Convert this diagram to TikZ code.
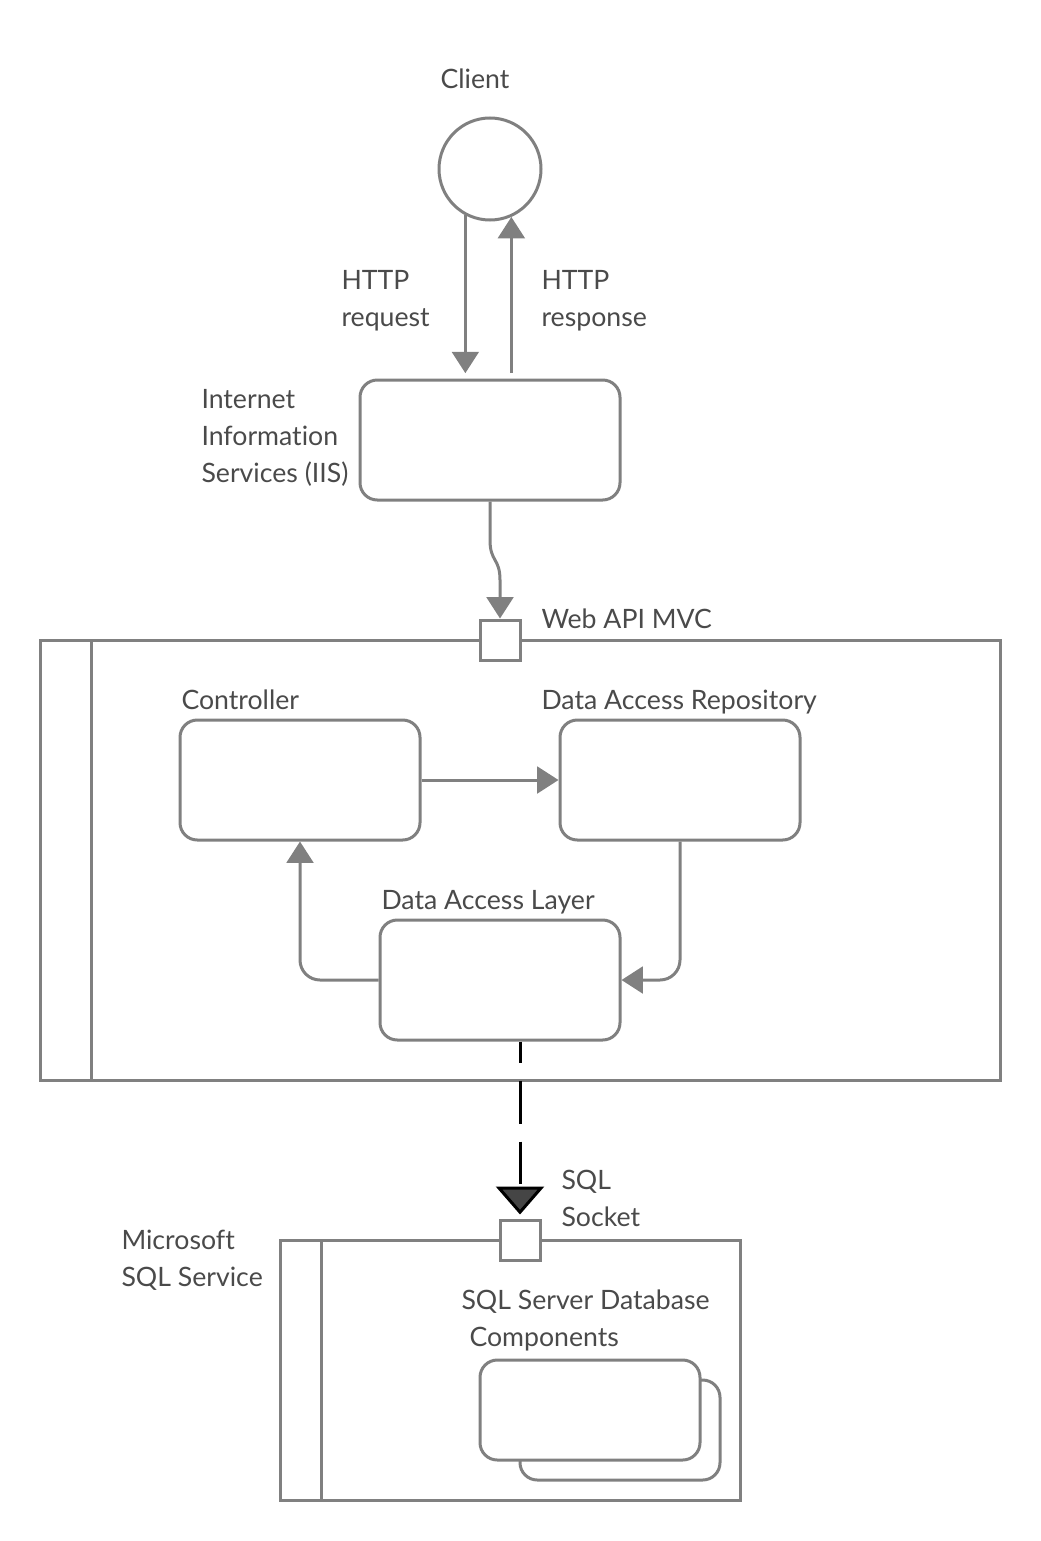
\documentclass[tikz,border=0pt]{standalone}
\usepackage{fontspec}
\setmainfont{Lato}[Ligatures=NoCommon]
\usetikzlibrary{arrows.meta}
\definecolor{linegray}{HTML}{808080}
\definecolor{textgray}{HTML}{4A4A4A}
\definecolor{tipgray}{HTML}{454545}

\begin{document}
\begin{tikzpicture}
[x=0.75pt,y=-0.75pt,line width=2.25pt,
 box/.style={draw=linegray,fill=white,rounded corners=13pt,minimum width=180pt,minimum height=90pt},
 port/.style={draw=linegray,fill=white,minimum size=30pt,inner sep=0pt},
 frame/.style={draw=linegray,inner sep=0pt,outer sep=0pt},
 lbl/.style={text=textgray,inner sep=0pt,align=left,font=\fontsize{20}{27.75}\selectfont},
 flow/.style={draw=linegray,-{Triangle[width=20pt,length=16pt]}},
 sqlflow/.style={draw=black,dash pattern=on 32pt off 13.5pt,dash phase=16pt,-{Triangle[width=36pt,length=21pt,fill=tipgray]}}]
\useasboundingbox (0,0) rectangle (1041,1541);
\node[circle,draw=linegray,minimum size=76.5pt,inner sep=0pt] (client) at (490,169) {};
\node[box,minimum width=195pt] (iis) at (490,440) {};
\node[frame,minimum width=720pt,minimum height=330pt] (webapi) at (520,860) {};
\node[frame,minimum width=345pt,minimum height=195pt] (sqlsvc) at (510,1370) {};
\foreach \f/\d in {webapi/51,sqlsvc/41}
  \draw[linegray] ([xshift=\d*0.75pt]\f.north west) -- ([xshift=\d*0.75pt]\f.south west);
\node[port] (webport) at (500,640) {};
\node[port] (sqlport) at (520,1240) {};
\node[box] (ctrl) at (300,780) {};
\node[box] (repo) at (680,780) {};
\node[box] (dal) at (500,980) {};
\node[box,minimum width=150pt,minimum height=75pt] (stackback) at (620,1430) {};
\node[box,minimum width=165pt,minimum height=75pt] (stackfront) at (590,1410) {};

\node[lbl,anchor=base] (clientlbl) at (475,89) {Client};
\node[lbl,anchor=base west] (reqlbl) at (340,326) {HTTP\\request};
\node[lbl,anchor=base west] (reslbl) at (540,326) {HTTP\\response};
\node[lbl,anchor=base west] (iislbl) at (200,482) {Internet\\Information\\Services (IIS)};
\node[lbl,anchor=base west] (webapilbl) at (540,628) {Web API MVC};
\node[lbl,anchor=base west] (ctrllbl) at (180,709) {Controller};
\node[lbl,anchor=base west] (repolbl) at (540,709) {Data Access Repository};
\node[lbl,anchor=base west] (dallbl) at (380,909) {Data Access Layer};
\node[lbl,anchor=base west] (socketlbl) at (560,1226) {SQL\\Socket};
\node[lbl,anchor=base west] (sqlsvclbl) at (120,1286) {Microsoft\\SQL Service};
\node[lbl,anchor=base west] (complbl) at (460,1346) {SQL Server Database\\\hspace{6pt}Components};

\draw[flow,shorten >=4pt] (client.-118) -- (client.-118 |- iis.north);
\draw[flow,shorten <=4pt] (client.-66 |- iis.north) -- (client.-66);
\draw[flow] (iis.south) -- (490,540) .. controls (490,562) and (500,558) .. (500,580) -- (webport.north);
\draw[flow] (ctrl.east) -- (repo.west);
\draw[flow,rounded corners=15pt] (repo.south) |- (dal.east);
\draw[flow,rounded corners=15pt] (dal.west) -| (ctrl.south);
\draw[sqlflow,shorten >=3pt] (dal.south -| sqlport.north) -- (sqlport.north);
\end{tikzpicture}
\end{document}
